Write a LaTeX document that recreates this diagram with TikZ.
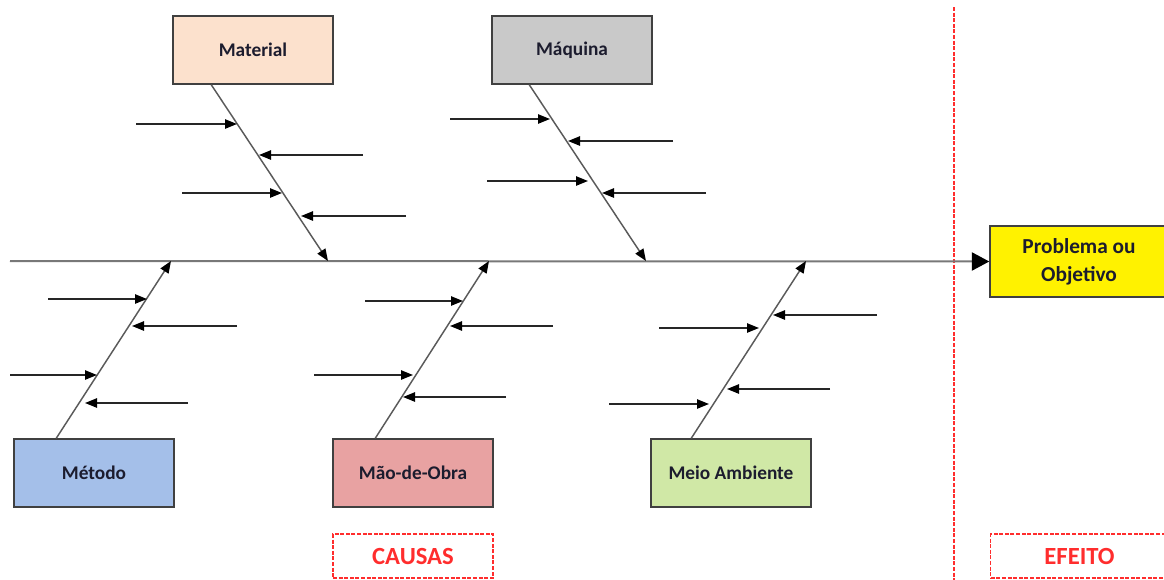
\documentclass[tikz,border=0pt]{standalone}
\usepackage{fontspec}
\setmainfont{Carlito}
\usetikzlibrary{arrows.meta,calc}

\definecolor{ink}{RGB}{28,28,46}
\definecolor{boxline}{RGB}{64,64,64}
\definecolor{spinegray}{RGB}{120,120,120}
\definecolor{bonegray}{RGB}{90,90,90}
\definecolor{dashred}{RGB}{255,45,45}
\definecolor{peach}{RGB}{252,225,205}
\definecolor{machgray}{RGB}{201,201,201}
\definecolor{methblue}{RGB}{164,191,233}
\definecolor{laborred}{RGB}{232,162,162}
\definecolor{envgreen}{RGB}{208,232,166}

\begin{document}
\begin{tikzpicture}[
  x={(0.75pt,0)}, y={(0,-0.75pt)},
  cat/.style={draw=boxline, line width=1.1pt, minimum width=120pt,
    minimum height=51pt, inner sep=0pt, text=ink,
    font=\bfseries\fontsize{14.5}{17}\selectfont},
  effect/.style={draw=boxline, line width=1.1pt, fill=yellow,
    minimum width=133.5pt, minimum height=53.25pt, inner sep=0pt,
    text=ink, align=center, font=\bfseries\fontsize{16}{21}\selectfont},
  tag/.style={draw=dashred, line width=0.8pt, dash pattern=on 3pt off 1.2pt,
    inner sep=0pt, text=dashred, font=\bfseries\fontsize{18.5}{20}\selectfont},
  spine/.style={draw=spinegray, line width=1.5pt,
    -{Triangle[length=13pt,width=13.5pt,color=black]}},
  bone/.style={draw=bonegray, line width=1.1pt,
    -{Triangle[length=9pt,width=7pt,color=black]}},
  rib/.style={draw=black!85, line width=1.1pt,
    -{Triangle[length=9pt,width=7pt,color=black]}}
]
\useasboundingbox (0,0) rectangle (1164,579);

% category boxes
\node[cat, fill=peach]    (mat) at (253,50)  {Material};
\node[cat, fill=machgray] (maq) at (572,50)  {Máquina};
\node[cat, fill=methblue] (met) at (94,473)  {Método};
\node[cat, fill=laborred] (mao) at (413,473) {Mão-de-Obra};
\node[cat, fill=envgreen] (mei) at (731,473) {Meio Ambiente};

% effect box
\node[effect] (prob) at (1079,261.5) {Problema ou\\Objetivo};

% section labels and divider
\node[tag, minimum width=120pt, minimum height=33pt] (causas) at (413,556) {CAUSAS};
\node[tag, minimum width=133pt, minimum height=33pt] (efeito) at (1079.5,556) {EFEITO};
\coordinate (divtop) at (954,7);
\coordinate (divbot) at (954,582);
\draw[draw=dashred, line width=0.8pt, dash pattern=on 3pt off 1.2pt] (divtop) -- (divbot);

% main spine
\coordinate (tail) at (10,261);
\draw[spine] (tail) -- (prob.west);

% bones meeting the spine
\coordinate (matE) at (328,261);
\coordinate (maqE) at (646,261);
\coordinate (metE) at (171,261);
\coordinate (maoE) at (489,261);
\coordinate (meiE) at (806,261);
\draw[bone] ($(mat.south west)+(39,0)$) -- (matE);
\draw[bone] ($(maq.south west)+(38,0)$) -- (maqE);
\draw[bone] ($(met.north west)+(43,0)$) -- (metE);
\draw[bone] ($(mao.north west)+(43,0)$) -- (maoE);
\draw[bone] ($(mei.north west)+(41,0)$) -- (meiE);

% sub-cause arrows: start x / tip x / y
\foreach \xs/\xt/\yy [count=\i] in {
  136/237/124, 363/259/155, 182/282/193, 406/301/216,
  450/550/119, 673/568/141, 487/588/181, 706/602/193,
  48/147/299, 237/132/326, 10/97/375, 188/85/403,
  365/463/301, 553/450/326, 314/413/375, 506/403/397,
  877/773/315, 659/759/328, 830/727/389, 609/709/404}{
  \coordinate (rs\i) at (\xs,\yy);
  \coordinate (rt\i) at (\xt,\yy);
  \draw[rib] (rs\i) -- (rt\i);
}
\end{tikzpicture}
\end{document}
